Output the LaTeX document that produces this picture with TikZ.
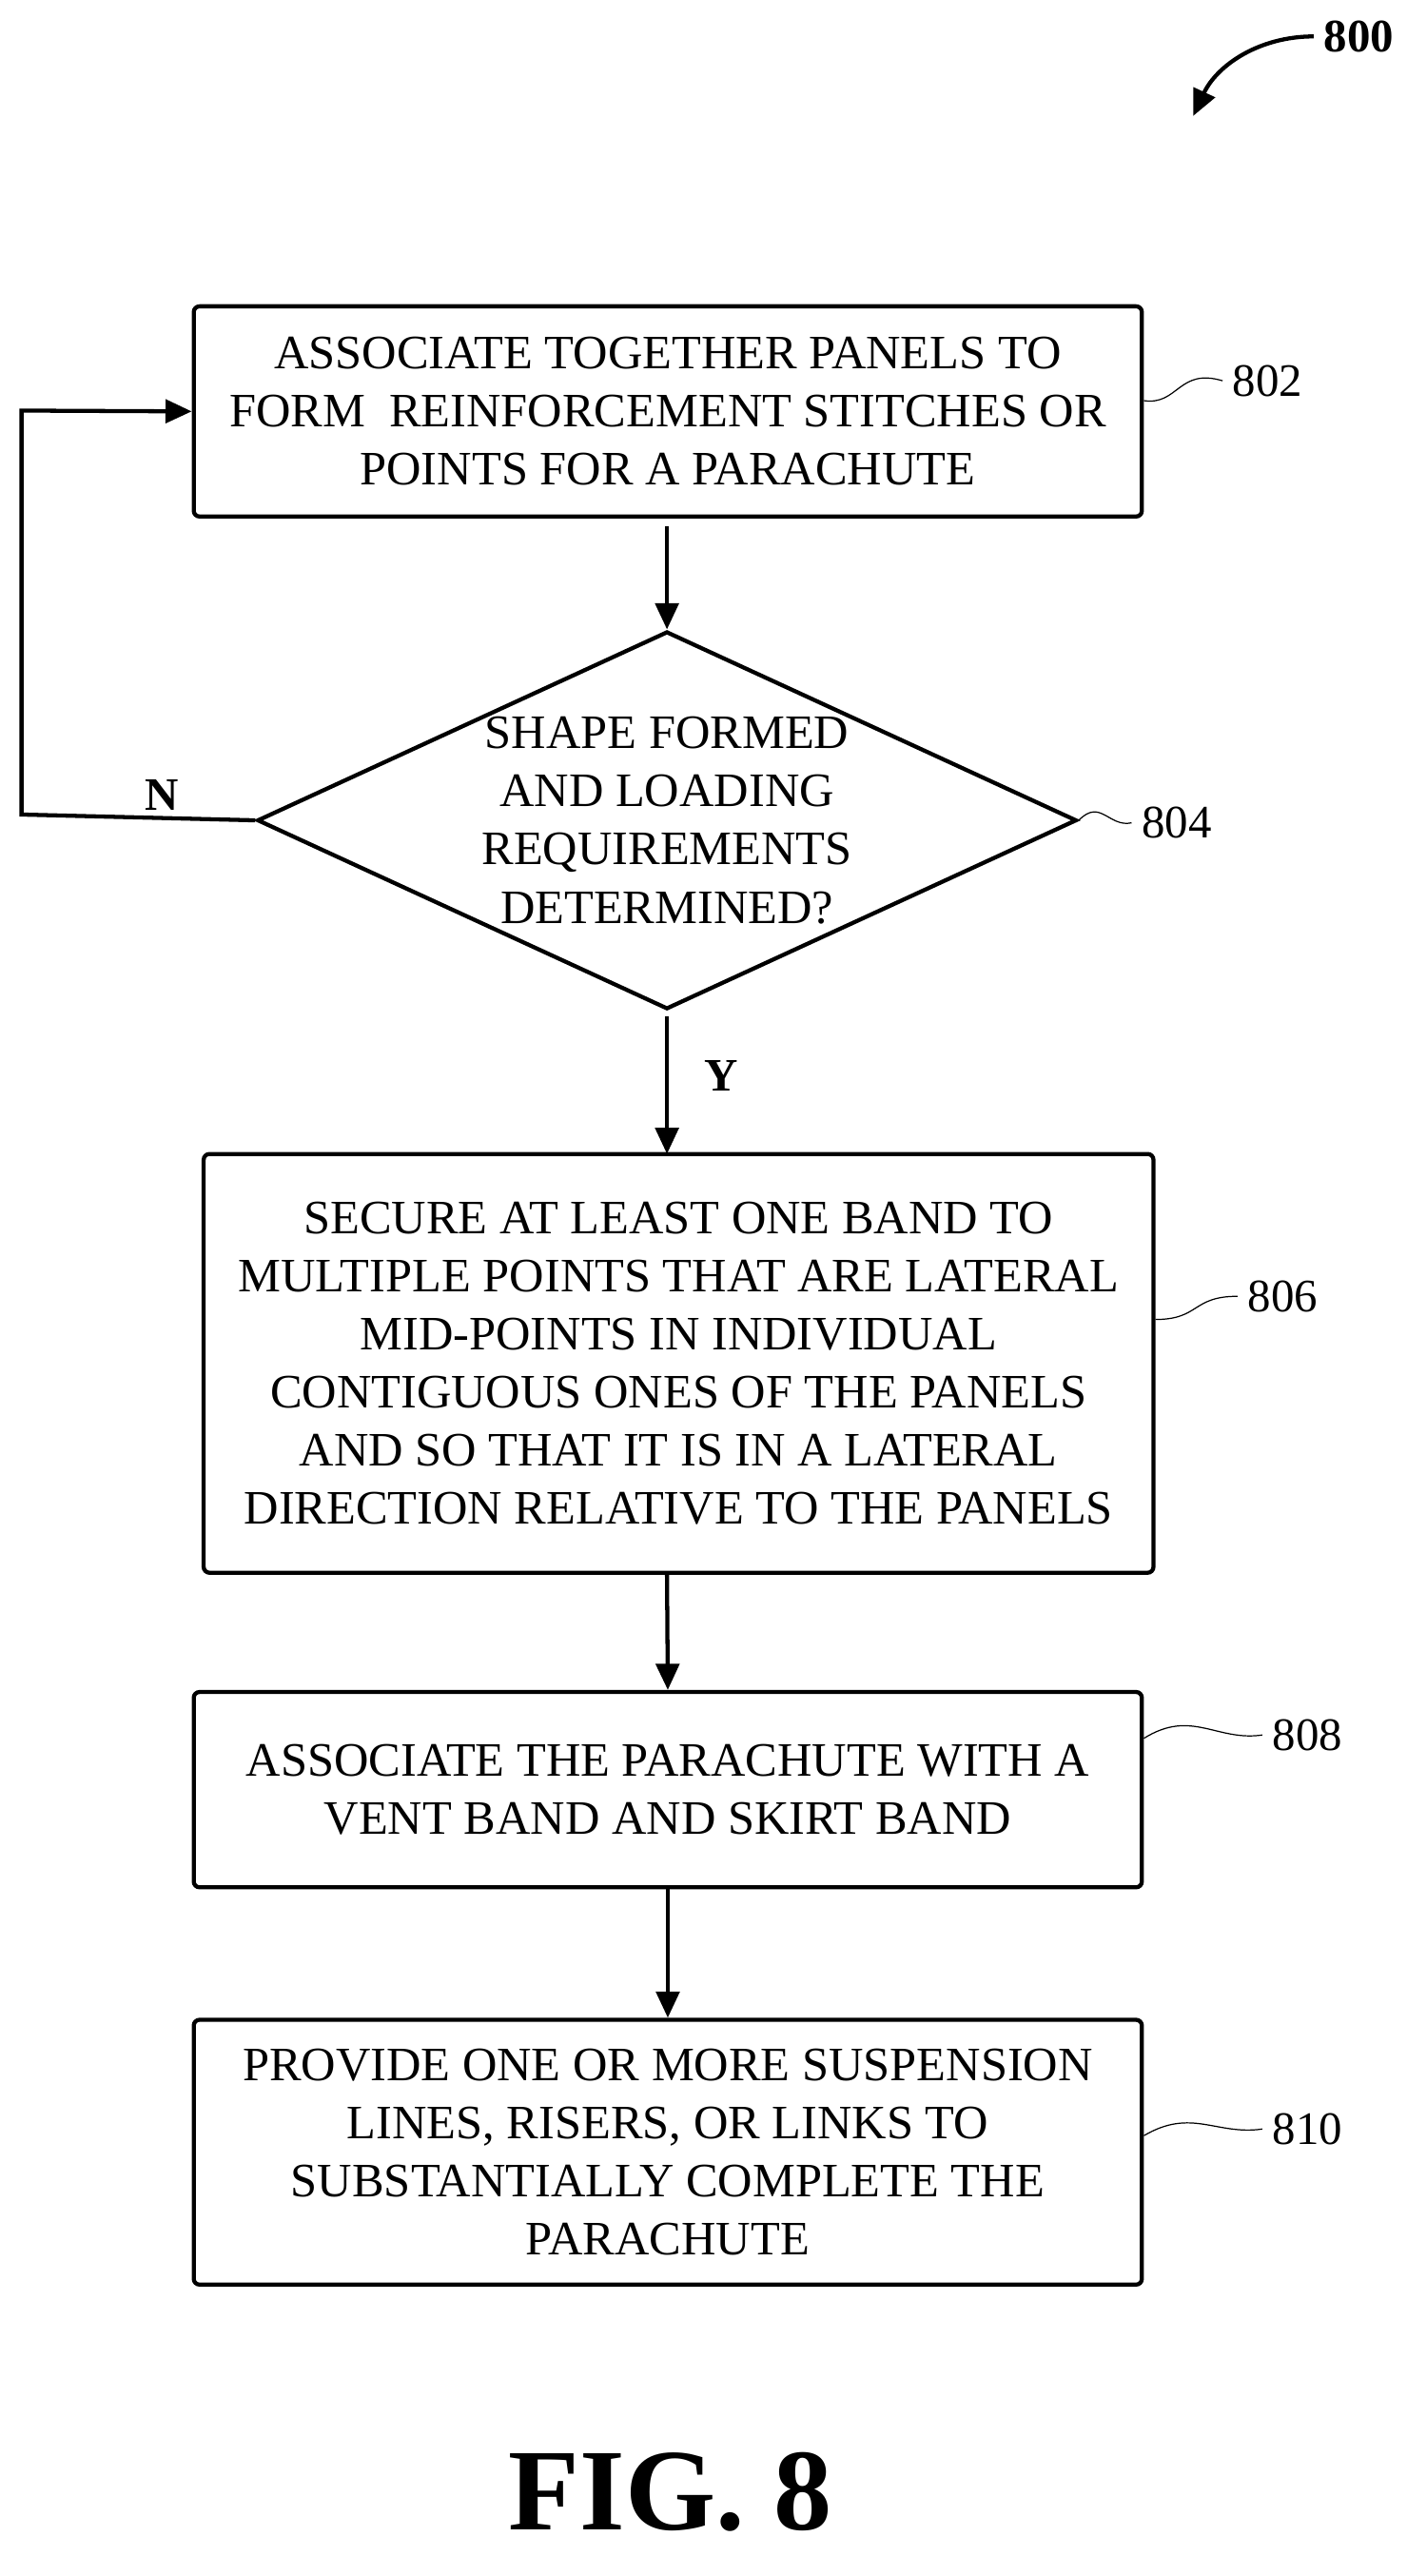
\documentclass[tikz,border=0pt]{standalone}
\usepackage{fontspec}
\setmainfont{Liberation Serif}
\usetikzlibrary{shapes.geometric,arrows.meta}
\tikzset{
  stepbox/.style={draw,line width=1.4pt,rounded corners=2pt,align=center,font=\fontsize{16.5}{20}\selectfont},
  flow/.style={-{Triangle[length=9pt,width=8pt]},line width=1.4pt},
  tag/.style={font=\fontsize{16}{18}\selectfont},
  squig/.style={thin}
}
\begin{document}
\begin{tikzpicture}[x=0.02cm,y=-0.02cm]
    \useasboundingbox (0,0) rectangle (850,1556);

    \node[stepbox,minimum width=11.46cm,minimum height=2.54cm] (s802) at (403.5,248.5)
      {ASSOCIATE TOGETHER PANELS TO\\FORM\ \ REINFORCEMENT STITCHES OR\\POINTS FOR A PARACHUTE};
    \node[draw,line width=1.4pt,diamond,aspect=2.17,minimum width=9.6cm,minimum height=4.42cm,
      inner sep=0pt,align=center,font=\fontsize{16.5}{20}\selectfont] (s804) at (403,495.5)
      {SHAPE FORMED\\AND LOADING\\REQUIREMENTS\\DETERMINED?};
    \node[stepbox,minimum width=11.48cm,minimum height=5.06cm] (s806) at (410,823.5)
      {SECURE AT LEAST ONE BAND TO\\MULTIPLE POINTS THAT ARE LATERAL\\MID-POINTS IN INDIVIDUAL\\CONTIGUOUS ONES OF THE PANELS\\AND SO THAT IT IS IN A LATERAL\\DIRECTION RELATIVE TO THE PANELS};
    \node[stepbox,minimum width=11.46cm,minimum height=2.36cm] (s808) at (403.5,1081)
      {ASSOCIATE THE PARACHUTE WITH A\\VENT BAND AND SKIRT BAND};
    \node[stepbox,minimum width=11.46cm,minimum height=3.2cm] (s810) at (403.5,1300)
      {PROVIDE ONE OR MORE SUSPENSION\\LINES, RISERS, OR LINKS TO\\SUBSTANTIALLY COMPLETE THE\\PARACHUTE};

    \coordinate (a1) at (403,318);
    \coordinate (a2) at (403,614);
    \coordinate (a3) at (403,697);
    \coordinate (a4) at (403,950);
    \draw[flow] (a1) -- (s804.north);
    \draw[flow] (a2) -- (a3);
    \draw[flow] (a4) -- (s808.north);
    \draw[flow] (s808.south) -- (s810.north);
    \coordinate (c1) at (13,492);
    \coordinate (c2) at (13,248);
    \draw[flow] (s804.west) -- (c1) -- (c2) -- (s802.west);
    \node[font=\bfseries\fontsize{16}{18}\selectfont] (lN) at (98,480) {N};
    \node[font=\bfseries\fontsize{16}{18}\selectfont] (lY) at (436,650) {Y};

    % reference numerals
    \node[tag] (t802) at (766,230) {802};
    \node[tag] (t804) at (711,497) {804};
    \node[tag] (t806) at (775,783) {806};
    \node[tag] (t808) at (790,1048) {808};
    \node[tag] (t810) at (790,1286) {810};
    \draw[squig] (s802.east |- 0,242) .. controls (712,245) and (712,222) .. (t802.west);
    \draw[squig] (s804.east) .. controls (665,482) and (670,500) .. (t804.west);
    \draw[squig] (s806.east |- 0,797) .. controls (725,797) and (720,783) .. (t806.west);
    \draw[squig] (s808.east |- 0,1050) .. controls (720,1032) and (735,1052) .. (t808.west);
    \draw[squig] (s810.east |- 0,1290) .. controls (720,1273) and (735,1290) .. (t810.west);

    \node[font=\bfseries\fontsize{16}{18}\selectfont] (t800) at (821,22) {800};
    \draw[-{Triangle[length=9pt,width=8pt]},line width=1.4pt] (t800.west) .. controls (760,22) and (735,40) .. (721,70);

    \node[font=\bfseries\fontsize{40}{44}\selectfont] (fig) at (405,1505) {FIG. 8};
\end{tikzpicture}
\end{document}
